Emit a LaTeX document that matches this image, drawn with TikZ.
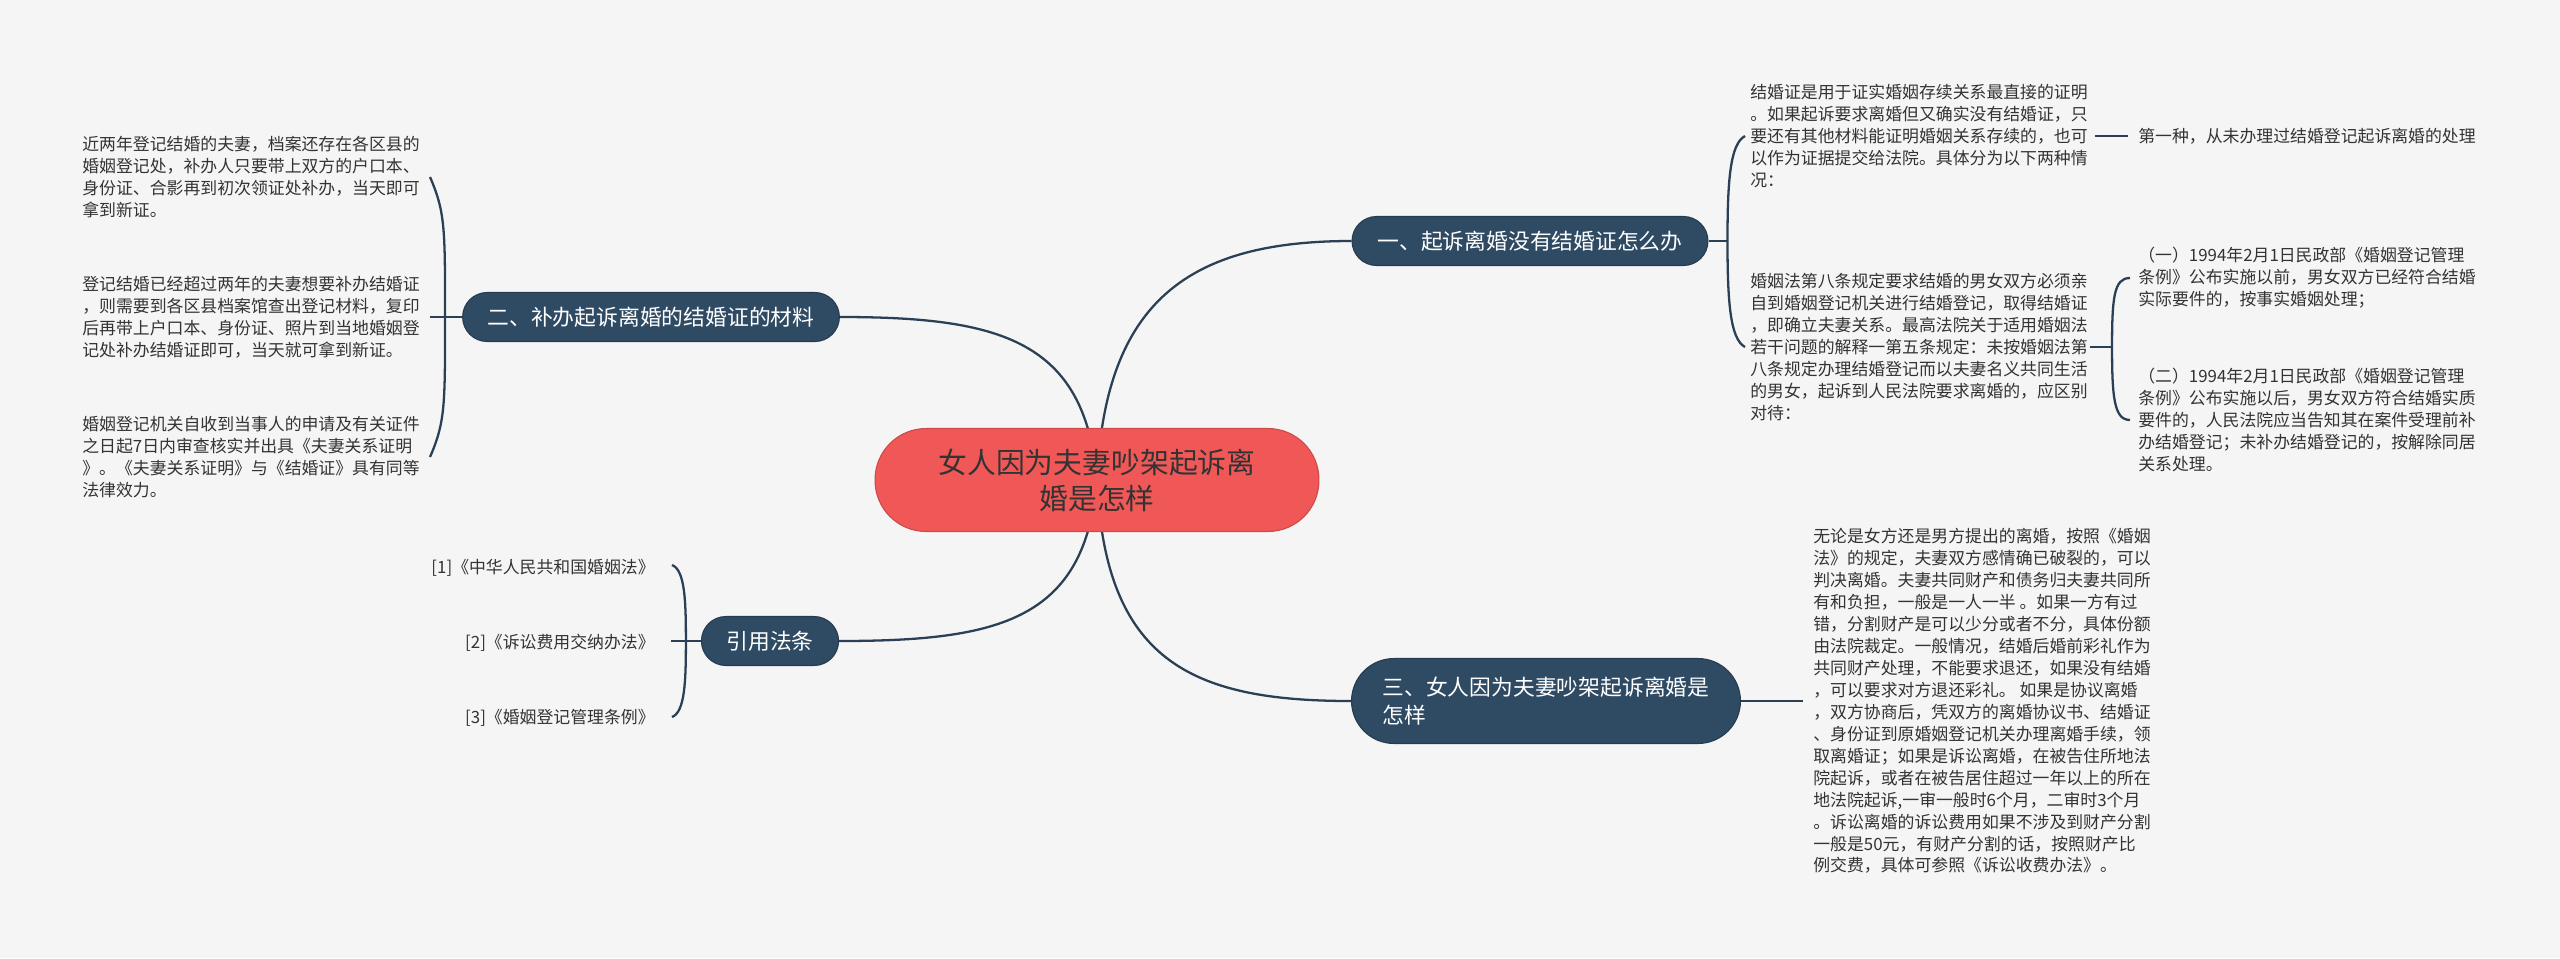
\documentclass[tikz,border=0pt]{standalone}
\usepackage{fontspec}
\setmainfont{Noto Sans CJK SC}
\usetikzlibrary{calc,backgrounds}

\definecolor{bgcol}{HTML}{F5F5F5}
\definecolor{navy}{HTML}{2F4A63}
\definecolor{linkcol}{HTML}{2B3F55}
\definecolor{rootred}{HTML}{F05757}
\definecolor{txtcol}{HTML}{333333}

\tikzset{
  root/.style={fill=rootred, draw=rootred!85!black, line width=0.6pt,
    rounded corners=1.02cm, minimum width=8.88cm, minimum height=2.06cm,
    align=center, text=black!80, font=\fontsize{16.4}{20.4}\selectfont},
  branch/.style={fill=navy, draw=navy!80!black, line width=0.6pt,
    rounded corners=0.49cm, minimum height=0.98cm, inner xsep=0.5cm,
    text=white, font=\fontsize{12.4}{16.4}\selectfont},
  leaf/.style={inner sep=0pt, align=left, text=txtcol,
    font=\fontsize{9.6}{12.5}\selectfont},
  link/.style={draw=linkcol, line width=1.3pt},
}

\begin{document}
\begin{tikzpicture}[x=0.02cm, y=-0.02cm]
    \useasboundingbox (0,0) rectangle (2560,958);

    % Root and main branches
    \node[root] (c) at (1097,480) {女人因为夫妻吵架起诉离\\婚是怎样};
    \node[branch, minimum width=7.12cm] (n1) at (1530,241) {一、起诉离婚没有结婚证怎么办};
    \node[branch, minimum width=7.5cm] (n2) at (651,317) {二、补办起诉离婚的结婚证的材料};
    \node[branch, minimum width=7.78cm, minimum height=1.7cm, rounded corners=0.85cm,
        align=left] (n3) at (1546,701) {三、女人因为夫妻吵架起诉离婚是\\怎样};
    \node[branch, minimum width=2.74cm] (n4) at (770,641) {引用法条};

    % Left leaves (branch 2)
    \node[leaf, anchor=west] (l21) at (82,177) {近两年登记结婚的夫妻，档案还存在各区县的\\
        婚姻登记处，补办人只要带上双方的户口本、\\
        身份证、合影再到初次领证处补办，当天即可\\
        拿到新证。};
    \node[leaf, anchor=west] (l22) at (82,317) {登记结婚已经超过两年的夫妻想要补办结婚证\\
        ，则需要到各区县档案馆查出登记材料，复印\\
        后再带上户口本、身份证、照片到当地婚姻登\\
        记处补办结婚证即可，当天就可拿到新证。};
    \node[leaf, anchor=west] (l23) at (82,457) {婚姻登记机关自收到当事人的申请及有关证件\\
        之日起7日内审查核实并出具《夫妻关系证明\\
        》。《夫妻关系证明》与《结婚证》具有同等\\
        法律效力。};

    % References
    \node[leaf, anchor=east] (r1) at (655,568) {[1]《中华人民共和国婚姻法》};
    \node[leaf, anchor=east] (r2) at (655,643) {[2]《诉讼费用交纳办法》};
    \node[leaf, anchor=east] (r3) at (655,718) {[3]《婚姻登记管理条例》};

    % Right leaves (branch 1)
    \node[leaf, anchor=west] (la) at (1750,136) {结婚证是用于证实婚姻存续关系最直接的证明\\
        。如果起诉要求离婚但又确实没有结婚证，只\\
        要还有其他材料能证明婚姻关系存续的，也可\\
        以作为证据提交给法院。具体分为以下两种情\\
        况：};
    \node[leaf, anchor=west] (lb) at (1750,347) {婚姻法第八条规定要求结婚的男女双方必须亲\\
        自到婚姻登记机关进行结婚登记，取得结婚证\\
        ，即确立夫妻关系。最高法院关于适用婚姻法\\
        若干问题的解释一第五条规定：未按婚姻法第\\
        八条规定办理结婚登记而以夫妻名义共同生活\\
        的男女，起诉到人民法院要求离婚的，应区别\\
        对待：};
    \node[leaf, anchor=west] (laa) at (2138,136) {第一种，从未办理过结婚登记起诉离婚的处理};
    \node[leaf, anchor=west] (lba) at (2138,278) {（一）1994年2月1日民政部《婚姻登记管理\\
        条例》公布实施以前，男女双方已经符合结婚\\
        实际要件的，按事实婚姻处理；};
    \node[leaf, anchor=west] (lbb) at (2138,420) {（二）1994年2月1日民政部《婚姻登记管理\\
        条例》公布实施以后，男女双方符合结婚实质\\
        要件的，人民法院应当告知其在案件受理前补\\
        办结婚登记；未补办结婚登记的，按解除同居\\
        关系处理。};

    % Right leaf (branch 3)
    \node[leaf, anchor=west] (l3) at (1813,701) {无论是女方还是男方提出的离婚，按照《婚姻\\
        法》的规定，夫妻双方感情确已破裂的，可以\\
        判决离婚。夫妻共同财产和债务归夫妻共同所\\
        有和负担，一般是一人一半 。如果一方有过\\
        错，分割财产是可以少分或者不分，具体份额\\
        由法院裁定。一般情况，结婚后婚前彩礼作为\\
        共同财产处理，不能要求退还，如果没有结婚\\
        ，可以要求对方退还彩礼。 如果是协议离婚\\
        ，双方协商后，凭双方的离婚协议书、结婚证\\
        、身份证到原婚姻登记机关办理离婚手续，领\\
        取离婚证；如果是诉讼离婚，在被告住所地法\\
        院起诉，或者在被告居住超过一年以上的所在\\
        地法院起诉,一审一般时6个月，二审时3个月\\
        。诉讼离婚的诉讼费用如果不涉及到财产分割\\
        一般是50元，有财产分割的话，按照财产比\\
        例交费，具体可参照《诉讼收费办法》。};

    % Brace spines
    \coordinate (s1) at ($(n1.east)+(19,0)$);
    \coordinate (s2) at ($(n2.west)+(-17,0)$);
    \coordinate (s4) at ($(n4.west)+(-15,0)$);
    \coordinate (sb) at ($(lb.east)+(24,0)$);

    \begin{scope}[on background layer]
        \fill[bgcol] (0,0) rectangle (2560,958);

        % Root to branches
        \draw[link] (c.center) .. controls (1105,300) and (1190,241) .. (n1.west);
        \draw[link] (c.center) .. controls (1085,340) and (1000,317) .. (n2.east);
        \draw[link] (c.center) .. controls (1105,660) and (1190,701) .. (n3.west);
        \draw[link] (c.center) .. controls (1085,620) and (1000,641) .. (n4.east);

        % Branch 1 brace
        \draw[link] (n1.east) -- (s1);
        \draw[link] ($(la.west)+(-5,0)$) .. controls +(-15,8) and +(0,-60) .. (s1)
            .. controls +(0,60) and +(-15,-8) .. ($(lb.west)+(-5,0)$);
        \draw[link] ($(la.east)+(7,0)$) -- ($(laa.west)+(-10,0)$);
        \draw[link] ($(lb.east)+(2,0)$) -- (sb);
        \draw[link] ($(lba.west)+(-8,0)$) .. controls +(-16,0) and +(0,-50) .. (sb)
            .. controls +(0,50) and +(-16,0) .. ($(lbb.west)+(-8,0)$);

        % Branch 2 brace
        \draw[link] (n2.west) -- ++(-32,0);
        \draw[link] ($(l21.east)+(10,0)$) .. controls +(15,35) and +(0,-90) .. (s2)
            .. controls +(0,90) and +(15,-35) .. ($(l23.east)+(10,0)$);

        % Branch 3 leaf
        \draw[link] (n3.east) -- ($(l3.west)+(-10,0)$);

        % References brace
        \draw[link] (n4.west) -- ++(-30,0);
        \draw[link] ($(r1.east)+(17,-3)$) .. controls +(13,5) and +(0,-40) .. (s4)
            .. controls +(0,40) and +(13,-5) .. ($(r3.east)+(17,-1)$);
    \end{scope}
\end{tikzpicture}
\end{document}
